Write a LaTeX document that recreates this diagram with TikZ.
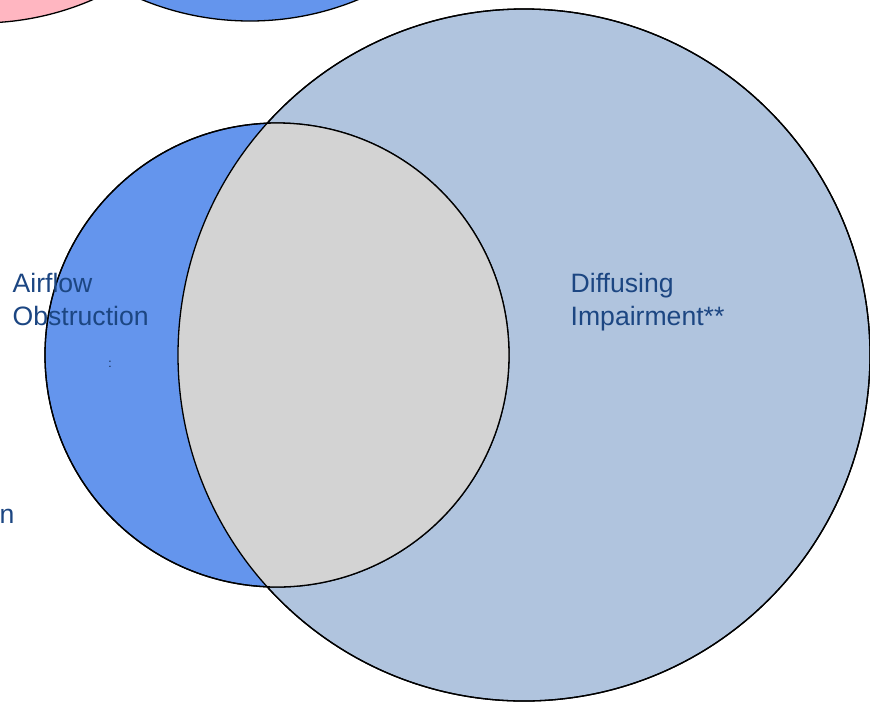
\documentclass[tikz,border=0pt]{standalone}
\usepackage{fontspec}
\setmainfont{Liberation Sans}
\definecolor{venpink}{HTML}{FFB6C1}
\definecolor{venblue}{HTML}{6495ED}
\definecolor{vensteel}{HTML}{B0C4DE}
\definecolor{vengray}{HTML}{D3D3D3}
\definecolor{ventext}{HTML}{1C4682}
\begin{document}
\begin{tikzpicture}[x=.5pt,y=-.5pt,line width=.65pt,
  lbl/.style={text=ventext,font=\fontsize{13.3}{16.5}\selectfont,align=left,inner sep=0pt}]
\useasboundingbox (0,0) rectangle (870,702); \clip (0,0) rectangle (870,702);
\coordinate (P) at (-20,-260); \coordinate (Q) at (250,-262);
\coordinate (A) at (277,355); \coordinate (D) at (524,355);
\draw[fill=venpink] (P) circle (283); \draw[fill=venblue] (Q) circle (283);
\draw[fill=vensteel] (D) circle (346); \draw[fill=venblue] (A) circle (232);
\begin{scope} \clip (A) circle (232); \fill[vengray] (D) circle (346); \end{scope}
\draw (A) circle (232); \draw (D) circle (346);
\node[lbl,anchor=base west] (air) at (12,292) {Airflow};
\node[lbl,anchor=base west] (obs) at (12,325) {Obstruction};
\node[lbl,anchor=base west] (dif) at (570,292) {Diffusing};
\node[lbl,anchor=base west] (imp) at (570,325) {Impairment**};
\node[text=ventext!50!black,font=\fontsize{6}{6}\selectfont,inner sep=0pt] (dots) at (110,364) {:};
\node[lbl,anchor=base west] (cut) at (-1,523) {n};
\end{tikzpicture}
\end{document}
